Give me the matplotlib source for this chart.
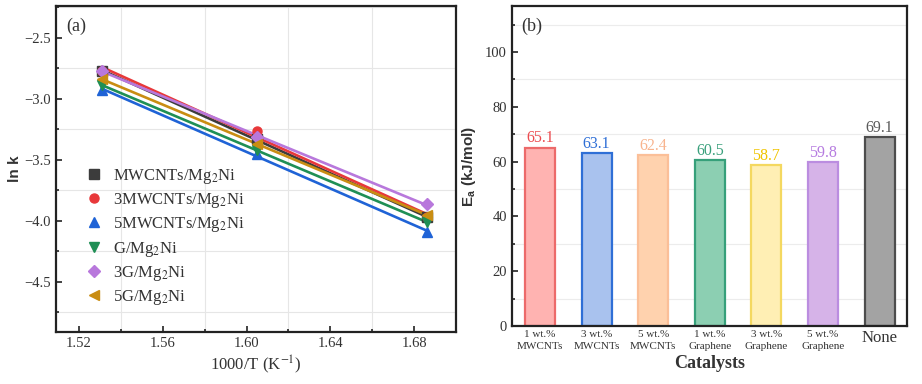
import numpy as np
import matplotlib.pyplot as plt
from matplotlib.ticker import MultipleLocator

# panel (a): Arrhenius plot
inv_T = [1.531, 1.605, 1.686]
series_names = ["MWCNTs/Mg$_2$Ni", "3MWCNTs/Mg$_2$Ni", "5MWCNTs/Mg$_2$Ni",
                "G/Mg$_2$Ni", "3G/Mg$_2$Ni", "5G/Mg$_2$Ni"]
lnk_mwcnt = [-2.77, -3.33, -3.97]
lnk_3mwcnt = [-2.77, -3.26, -3.97]
lnk_5mwcnt = [-2.93, -3.45, -4.09]
lnk_g = [-2.89, -3.42, -4.01]
lnk_3g = [-2.77, -3.31, -3.865]
lnk_5g = [-2.84, -3.37, -3.95]

# panel (b): activation energies
catalysts = ["1 wt.%\nMWCNTs", "3 wt.%\nMWCNTs", "5 wt.%\nMWCNTs",
             "1 wt.%\nGraphene", "3 wt.%\nGraphene", "5 wt.%\nGraphene", "None"]
ea_values = [65.1, 63.1, 62.4, 60.5, 58.7, 59.8, 69.1]

line_colors = ["#3c3c3c", "#e8383a", "#1f63d6", "#1f8f55", "#b878dc", "#c98d12"]
markers = ["s", "o", "^", "v", "D", "<"]
bar_fill = ["#ffb3b1", "#a9c2ee", "#ffd2ae", "#8ccfb2", "#ffefb4", "#d6b3e8", "#a3a3a3"]
bar_edge = ["#ec6a6a", "#2f6fd6", "#fbbf98", "#36a07a", "#f4d860", "#bb8de0", "#4d4d4d"]
text_colors = ["#ec4c50", "#2f6fd6", "#f8b48e", "#3aa07c", "#f0c400", "#b67ce0", "#5a5a5a"]

serif = "Liberation Serif"
sans = "Liberation Sans"
plt.rcParams["font.family"] = serif
plt.rcParams["mathtext.fontset"] = "stix"

fig = plt.figure(figsize=(9.22, 3.84), dpi=100)
ax1 = fig.add_axes([0.0607, 0.1354, 0.4338, 0.849])
ax2 = fig.add_axes([0.555, 0.151, 0.4284, 0.833])

for ax in (ax1, ax2):
    for sp in ax.spines.values():
        sp.set_linewidth(1.6)
        sp.set_color("#222222")
    ax.tick_params(which="both", direction="in", width=1.2, colors="#222222", labelcolor="#333333")
    ax.tick_params(which="major", length=4)
    ax.tick_params(which="minor", length=2.5)

all_lnk = [lnk_mwcnt, lnk_3mwcnt, lnk_5mwcnt, lnk_g, lnk_3g, lnk_5g]
x = np.array(inv_T)
xfit = np.array([x.min(), x.max()])
for name, y, c, m in zip(series_names, all_lnk, line_colors, markers):
    p = np.polyfit(x, y, 1)
    ax1.plot(xfit, np.polyval(p, xfit), color=c, lw=1.9, zorder=2)
    ax1.plot(x, y, ls="none", marker=m, color=c, ms=6.5, label=name, zorder=3)

ax1.set_xlim(1.509, 1.70)
ax1.set_ylim(-4.91, -2.24)
ax1.xaxis.set_major_locator(MultipleLocator(0.04))
ax1.xaxis.set_minor_locator(MultipleLocator(0.02))
ax1.yaxis.set_major_locator(MultipleLocator(0.5))
ax1.yaxis.set_minor_locator(MultipleLocator(0.25))
ax1.grid(which="minor", color="#e6e6e6", lw=0.8, zorder=0)
ax1.set_axisbelow(True)
ax1.tick_params(labelsize=10.5)
ax1.set_xticks([1.52, 1.56, 1.60, 1.64, 1.68])
ax1.set_xticklabels(["1.52", "1.56", "1.60", "1.64", "1.68"])
ax1.set_yticks([-2.5, -3.0, -3.5, -4.0, -4.5])
ax1.set_yticklabels(["\u22122.5", "\u22123.0", "\u22123.5", "\u22124.0", "\u22124.5"])
ax1.set_xlabel("1000/T (K$^{-1}$)", fontsize=12, color="#333333", labelpad=3)
ax1.set_ylabel("ln k", fontsize=11, family=sans, fontweight="bold", color="#333333", labelpad=2)
ax1.text(0.025, 0.965, "(a)", transform=ax1.transAxes, fontsize=13, va="top", color="#333333")
leg = ax1.legend(loc="lower left", bbox_to_anchor=(0.03, 0.03), frameon=False,
                 fontsize=12, handletextpad=0.5, labelspacing=0.32, handlelength=1.3)
for t in leg.get_texts():
    t.set_color("#333333")

pos = np.arange(len(catalysts))
ax2.bar(pos, ea_values, width=0.53, color=bar_fill, edgecolor=bar_edge, linewidth=1.6, zorder=2)
for xi, v, c in zip(pos, ea_values, text_colors):
    ax2.text(xi, v + 0.4, f"{v}", ha="center", va="bottom", fontsize=11.5, color=c)
ax2.set_xlim(-0.5, 6.48)
ax2.set_ylim(0, 116.7)
ax2.yaxis.set_major_locator(MultipleLocator(20))
ax2.yaxis.set_minor_locator(MultipleLocator(10))
ax2.set_yticks([0, 20, 40, 60, 80, 100])
ax2.grid(axis="y", which="minor", color="#ececec", lw=0.8, zorder=0)
ax2.set_axisbelow(True)
ax2.tick_params(axis="y", labelsize=10.5)
ax2.set_xticks(pos)
ax2.set_xticklabels(catalysts, fontsize=8, linespacing=1.45)
ax2.get_xticklabels()[-1].set_fontsize(12)
ax2.tick_params(axis="x", which="both", length=0, pad=3)
ax2.set_xlabel("Catalysts", fontsize=13, fontweight="bold", color="#333333", labelpad=3)
ax2.set_ylabel("E$_\\mathregular{a}$ (kJ/mol)", fontsize=11, family=sans, fontweight="bold",
               color="#333333", labelpad=5)
ax2.text(0.025, 0.965, "(b)", transform=ax2.transAxes, fontsize=13, va="top", color="#333333")

fig.savefig("out.png", dpi=100)
